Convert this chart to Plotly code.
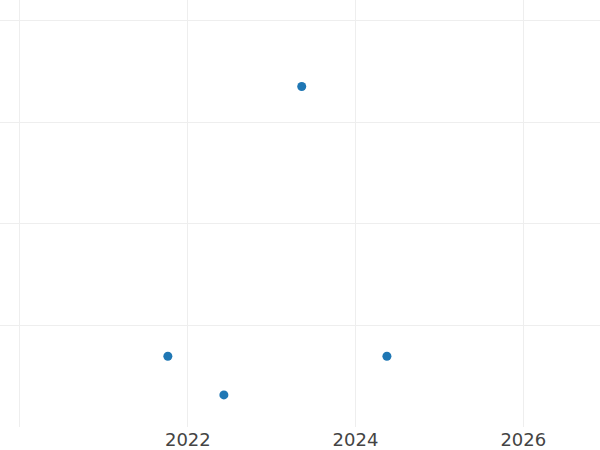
import plotly.graph_objects as go


dates = ["2021-10-06", "2022-06-07", "2023-05-12", "2024-05-17"]
values = [0.70, 0.32, 3.35, 0.70]

x_range = ["2019-10-06", "2026-12-01"]
y_range = [0.005, 4.2]

fig = go.Figure(
    data=[go.Scatter(
        x=dates, y=values,
        mode='markers',
        marker=dict(size=9, color='#1f77b4')
    )],
    layout=go.Layout(
        template='none',
        width=600, height=450,
        showlegend=False,
        font=dict(family='DejaVu Sans', size=18, color='#444'),
        margin=dict(l=0, r=0, t=0, b=23),
        xaxis=dict(type='date', range=x_range, dtick='M24', tick0='2020-01-01',
                   tickformat='%Y', gridcolor='#eee', zeroline=False),
        yaxis=dict(range=y_range, dtick=1, gridcolor='#eee',
                   showticklabels=False, zeroline=False)
    )
)
# page body has an 8px default margin, drop it so the chart fills the window
fig.write_html("out.html", config={'displayModeBar': False},
               post_script="document.body.style.margin='0';document.body.style.overflow='hidden';")
